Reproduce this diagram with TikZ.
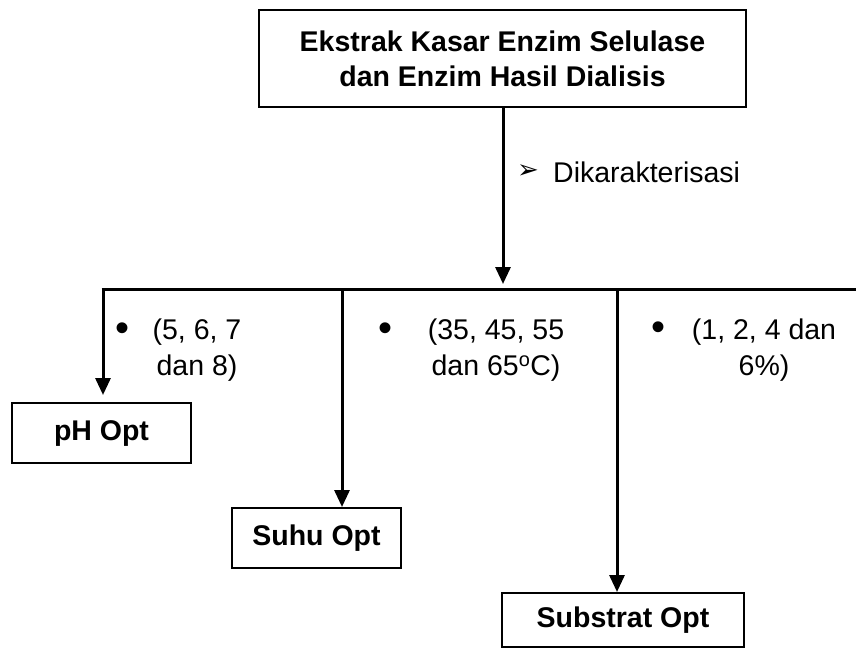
\documentclass[tikz,border=0pt]{standalone}
\usepackage{fontspec}
\setmainfont{Liberation Sans}
\newfontfamily\dejavu{DejaVu Sans}
\usetikzlibrary{arrows.meta}
\tikzset{
  box/.style={draw, line width=2pt, inner sep=0pt, align=center, font=\fontsize{28.5}{35}\selectfont\bfseries},
  lbl/.style={inner sep=0pt, align=center, font=\fontsize{28.5}{36}\selectfont},
  bul/.style={inner sep=0pt, font=\fontsize{40}{40}\selectfont},
  conn/.style={line width=3pt},
  arr/.style={line width=3pt, -{Triangle[length=17pt,width=15pt]}},
}
\begin{document}
\begin{tikzpicture}[x=1pt,y=-1pt]
\useasboundingbox (0,0) rectangle (856,648);
\node[box, minimum width=487pt, minimum height=97pt] (top) at (502.5,58.5) {Ekstrak Kasar Enzim Selulase\\dan Enzim Hasil Dialisis};
\node[box, minimum width=179pt, minimum height=60pt] (ph) at (101.5,433) {pH Opt};
\node[box, minimum width=169pt, minimum height=60pt] (suhu) at (316.5,538) {Suhu Opt};
\node[box, minimum width=242pt, minimum height=54pt] (sub) at (623,620) {Substrat Opt};
\coordinate (busL) at (103,289);
\coordinate (busR) at (856,289);
\coordinate (busM) at (503,289);
\coordinate (busS) at (342,289);
\coordinate (busT) at (617,289);
\draw[arr] (top.south -| busM) -- ([yshift=5pt]busM);
\draw[conn] ([xshift=-1.5pt]busL) -- (busR);
\draw[arr] (busL) -- ([yshift=7pt]ph.north -| busL);
\draw[arr] (busS) -- (suhu.north -| busS);
\draw[arr] (busT) -- (sub.north -| busT);
% labels
\node[inner sep=0pt, font=\dejavu\fontsize{26}{26}\selectfont] (karr) at (528,172) {➢};
\node[lbl, anchor=west] (kar) at (553,172) {Dikarakterisasi};
\node[bul] (b1) at (123,332) {•};
\node[lbl] (t1) at (197,350) {(5, 6, 7\\dan 8)};
\node[bul] (b2) at (385,332) {•};
\node[lbl] (t2) at (496,350) {(35, 45, 55\\dan 65\textsuperscript{o}C)};
\node[bul] (b3) at (658,331) {•};
\node[lbl] (t3) at (764,350) {(1, 2, 4 dan\\6\%)};
\end{tikzpicture}
\end{document}
